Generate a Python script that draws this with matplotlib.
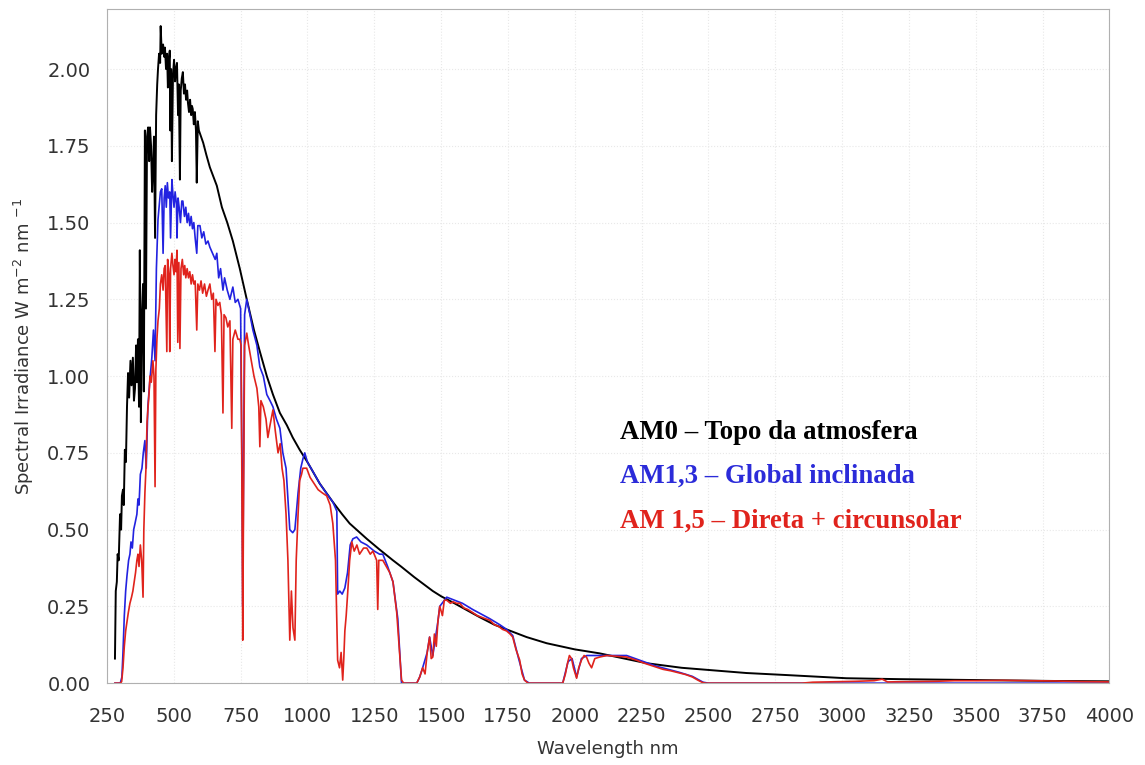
import matplotlib
matplotlib.use("Agg")
import matplotlib.pyplot as plt

# values (wavelength nm, W m-2 nm-1)
am0_wl = [280, 283, 287, 290, 294, 299, 303, 306, 310, 313, 317, 321, 325, 329, 333,
          338, 342, 347, 351, 355, 359, 362, 366, 370, 373, 377, 381, 385, 388, 392,
          396, 400, 404, 408, 411, 415, 419, 422, 426, 430, 434, 438, 441, 445, 449,
          451, 455, 460, 464, 467, 471, 475, 478, 482, 485, 487, 490, 493, 497, 501,
          505, 508, 512, 516, 519, 523, 526, 530, 534, 538, 542, 546, 550, 553, 557,
          561, 565, 568, 571, 575, 579, 583, 586, 590, 594, 598, 610, 622, 635, 648,
          661, 680, 700, 721, 747, 773, 800, 822, 848, 871, 897, 923, 945, 971, 1000,
          1046, 1095, 1130, 1158, 1190, 1222, 1270, 1320, 1350, 1400, 1469, 1500, 1550, 1644, 1700,
          1820, 1895, 2000, 2093, 2268, 2400, 2642, 2800, 3016, 3214, 3400, 3588, 3800, 4000]
am0_val = [0.08, 0.30, 0.33, 0.42, 0.40, 0.55, 0.50, 0.61, 0.63, 0.58, 0.76, 0.72, 0.90, 1.01, 0.93,
           1.05, 0.97, 1.06, 0.92, 0.96, 1.10, 0.98, 1.12, 0.90, 1.41, 0.85, 1.20, 1.30, 0.95, 1.80,
           1.22, 1.78, 1.81, 1.70, 1.81, 1.75, 1.60, 1.67, 1.78, 1.45, 1.85, 1.95, 2.00, 2.05, 2.02,
           2.14, 2.05, 2.08, 2.04, 2.07, 2.00, 2.05, 1.94, 2.03, 2.06, 1.80, 2.00, 1.70, 1.98, 2.03,
           1.96, 2.00, 2.02, 1.85, 1.95, 1.64, 1.93, 1.97, 1.99, 1.92, 1.95, 1.90, 1.93, 1.89, 1.86,
           1.90, 1.85, 1.88, 1.87, 1.82, 1.86, 1.80, 1.63, 1.83, 1.80, 1.79, 1.76, 1.72, 1.68, 1.65,
           1.62, 1.55, 1.50, 1.44, 1.35, 1.25, 1.15, 1.08, 1.00, 0.94, 0.88, 0.84, 0.80, 0.76, 0.72,
           0.65, 0.59, 0.55, 0.52, 0.495, 0.47, 0.435, 0.40, 0.38, 0.345, 0.30, 0.283, 0.26, 0.215, 0.19,
           0.15, 0.13, 0.11, 0.097, 0.065, 0.05, 0.033, 0.026, 0.016, 0.013, 0.011, 0.009, 0.007, 0.006]

am13_wl = [280, 300, 306, 310, 315, 320, 325, 331, 336, 340, 345, 350, 355, 362, 366,
           370, 375, 381, 386, 392, 397, 403, 410, 418, 424, 430, 435, 441, 445, 450,
           455, 460, 464, 468, 472, 476, 480, 485, 488, 493, 497, 501, 505, 510, 512,
           516, 520, 525, 530, 534, 540, 545, 550, 555, 560, 565, 570, 575, 580, 586,
           590, 598, 605, 612, 620, 628, 635, 645, 655, 661, 668, 675, 684, 690, 700,
           710, 721, 730, 740, 750, 756, 758, 761, 765, 773, 785, 796, 811, 822, 835,
           848, 860, 871, 884, 897, 908, 920, 934, 945, 953, 965, 975, 983, 990, 1000,
           1020, 1046, 1070, 1095, 1110, 1113, 1121, 1130, 1140, 1150, 1160, 1170, 1184, 1200,
           1222, 1250, 1270, 1282, 1300, 1320, 1338, 1352, 1409, 1420, 1431, 1448, 1457, 1469,
           1488, 1495, 1512, 1521, 1550, 1580, 1618, 1650, 1682, 1720, 1745, 1768, 1790, 1812, 1830,
           1955, 1975, 1990, 2007, 2025, 2045, 2093, 2194, 2306, 2392, 2440, 2480, 2500, 4000]
am13_val = [0.0, 0.0, 0.02, 0.10, 0.22, 0.30, 0.35, 0.40, 0.42, 0.46, 0.44, 0.50, 0.52, 0.55, 0.60,
            0.58, 0.68, 0.70, 0.75, 0.79, 0.70, 0.90, 0.98, 1.06, 1.15, 1.05, 1.35, 1.51, 1.55, 1.60,
            1.61, 1.40, 1.58, 1.62, 1.55, 1.63, 1.58, 1.60, 1.45, 1.64, 1.59, 1.55, 1.60, 1.56, 1.45,
            1.58, 1.55, 1.50, 1.57, 1.57, 1.52, 1.55, 1.50, 1.53, 1.49, 1.52, 1.48, 1.50, 1.45, 1.40,
            1.49, 1.49, 1.45, 1.47, 1.43, 1.44, 1.42, 1.40, 1.38, 1.40, 1.32, 1.35, 1.28, 1.32, 1.28,
            1.25, 1.29, 1.24, 1.25, 1.22, 0.60, 0.25, 0.70, 1.20, 1.25, 1.20, 1.15, 1.10, 1.03, 1.00,
            0.94, 0.92, 0.90, 0.86, 0.83, 0.75, 0.70, 0.50, 0.49, 0.50, 0.62, 0.70, 0.73, 0.75, 0.72,
            0.69, 0.65, 0.62, 0.59, 0.56, 0.29, 0.30, 0.29, 0.31, 0.36, 0.45, 0.47, 0.476, 0.46,
            0.45, 0.43, 0.42, 0.42, 0.38, 0.33, 0.21, 0.0, 0.0, 0.02, 0.05, 0.10, 0.15, 0.09,
            0.20, 0.25, 0.27, 0.28, 0.27, 0.26, 0.24, 0.225, 0.21, 0.19, 0.175, 0.155, 0.08, 0.01, 0.0,
            0.0, 0.07, 0.08, 0.02, 0.08, 0.09, 0.09, 0.09, 0.055, 0.035, 0.022, 0.003, 0.0, 0.0]

am15_wl = [280, 300, 305, 310, 315, 320, 325, 330, 336, 342, 347, 352, 357, 362, 366,
           370, 375, 380, 385, 388, 392, 396, 400, 404, 408, 411, 416, 422, 426, 430,
           433, 437, 441, 446, 450, 455, 460, 464, 468, 474, 477, 482, 485, 488, 493,
           497, 501, 505, 508, 512, 515, 519, 523, 527, 532, 537, 541, 545, 550, 555,
           560, 565, 570, 575, 580, 586, 590, 596, 602, 608, 615, 622, 628, 635, 642,
           648, 654, 658, 665, 672, 678, 684, 688, 695, 702, 710, 717, 721, 730, 740,
           747, 752, 756, 758, 761, 765, 773, 780, 790, 800, 811, 818, 822, 826, 835,
           845, 852, 860, 871, 880, 890, 898, 905, 912, 920, 927, 934, 940, 946, 953,
           958, 965, 971, 978, 983, 990, 997, 1010, 1025, 1040, 1055, 1072, 1085, 1095,
           1105, 1110, 1113, 1120, 1126, 1132, 1136, 1140, 1145, 1151, 1158, 1166, 1175, 1185,
           1195, 1210, 1222, 1235, 1245, 1259, 1263, 1267, 1282, 1295, 1308, 1320, 1334, 1343,
           1352, 1360, 1409, 1420, 1431, 1440, 1448, 1457, 1463, 1469, 1475, 1482, 1488, 1495,
           1505, 1512, 1521, 1535, 1545, 1558, 1570, 1585, 1600, 1618, 1635, 1650, 1665, 1682,
           1700, 1715, 1730, 1745, 1758, 1768, 1780, 1794, 1803, 1812, 1825, 1955, 1965, 1973,
           1980, 1988, 1995, 2007, 2015, 2025, 2035, 2044, 2053, 2063, 2075, 2093, 2120, 2150,
           2194, 2230, 2260, 2306, 2330, 2360, 2392, 2415, 2440, 2460, 2478, 2490, 2850, 2890,
           2950, 3050, 3120, 3150, 3170, 3250, 3350, 3420, 3500, 3600, 3700, 3800, 3900, 4000]
am15_val = [0.0, 0.0, 0.005, 0.05, 0.12, 0.17, 0.20, 0.23, 0.26, 0.28, 0.30, 0.33, 0.36, 0.40, 0.42,
            0.38, 0.45, 0.40, 0.28, 0.50, 0.62, 0.70, 0.85, 0.90, 0.95, 1.00, 0.98, 1.05, 1.00, 0.64,
            1.02, 1.12, 1.18, 1.22, 1.30, 1.33, 1.28, 1.35, 1.36, 1.08, 1.38, 1.33, 1.08, 1.35, 1.40,
            1.36, 1.33, 1.38, 1.34, 1.41, 1.11, 1.37, 1.09, 1.35, 1.38, 1.33, 1.36, 1.32, 1.35, 1.32,
            1.34, 1.30, 1.33, 1.30, 1.31, 1.15, 1.30, 1.28, 1.31, 1.27, 1.30, 1.26, 1.28, 1.30, 1.25,
            1.27, 1.08, 1.25, 1.23, 1.24, 1.20, 0.88, 1.20, 1.19, 1.16, 1.18, 0.83, 1.12, 1.15, 1.12,
            1.12, 1.10, 0.50, 0.14, 0.60, 1.10, 1.14, 1.10, 1.05, 1.00, 0.96, 0.90, 0.77, 0.92, 0.90,
            0.86, 0.80, 0.84, 0.89, 0.82, 0.75, 0.78, 0.70, 0.66, 0.55, 0.40, 0.14, 0.30, 0.18, 0.14,
            0.40, 0.55, 0.66, 0.68, 0.70, 0.70, 0.70, 0.67, 0.65, 0.63, 0.62, 0.61, 0.58, 0.52,
            0.40, 0.20, 0.075, 0.05, 0.10, 0.01, 0.08, 0.17, 0.22, 0.30, 0.40, 0.46, 0.43, 0.45,
            0.42, 0.44, 0.44, 0.42, 0.43, 0.40, 0.24, 0.40, 0.40, 0.38, 0.36, 0.33, 0.23, 0.12,
            0.01, 0.0, 0.0, 0.02, 0.05, 0.03, 0.10, 0.15, 0.08, 0.085, 0.16, 0.12, 0.20, 0.25,
            0.22, 0.27, 0.27, 0.26, 0.265, 0.26, 0.26, 0.245, 0.24, 0.23, 0.22, 0.215, 0.21, 0.205,
            0.19, 0.185, 0.175, 0.17, 0.16, 0.15, 0.11, 0.075, 0.03, 0.01, 0.0, 0.0, 0.03, 0.065,
            0.09, 0.08, 0.05, 0.016, 0.05, 0.075, 0.09, 0.085, 0.065, 0.05, 0.08, 0.085, 0.09, 0.088,
            0.085, 0.075, 0.065, 0.052, 0.045, 0.04, 0.033, 0.028, 0.02, 0.01, 0.002, 0.0, 0.0, 0.003,
            0.004, 0.006, 0.008, 0.013, 0.004, 0.005, 0.006, 0.008, 0.008, 0.009, 0.008, 0.007, 0.005, 0.004]

x_ticks = [250, 500, 750, 1000, 1250, 1500, 1750, 2000, 2250, 2500, 2750, 3000, 3250, 3500, 3750, 4000]
y_ticks = [0.0, 0.25, 0.5, 0.75, 1.0, 1.25, 1.5, 1.75, 2.0]

labels = ["AM0 \u2013 Topo da atmosfera", "AM1,3 \u2013 Global inclinada", "AM 1,5 \u2013 Direta + circunsolar"]
label_colors = ["#000000", "#2b2bd9", "#e0231c"]
label_y = [0.817, 0.674, 0.528]

fig = plt.figure(figsize=(11.45, 7.65), dpi=100)
ax = fig.add_axes([0.0934, 0.107, 0.8755, 0.881])

ax.plot(am0_wl, am0_val, color="black", lw=1.4)
ax.plot(am13_wl, am13_val, color="#2222e0", lw=1.2)
ax.plot(am15_wl, am15_val, color="#e0231c", lw=1.2)

ax.set_xlim(250, 4000)
ax.set_ylim(0, 2.195)
ax.set_xticks(x_ticks)
ax.set_yticks(y_ticks)
ax.set_yticklabels([f"{v:.2f}" for v in y_ticks])
ax.tick_params(length=0, labelsize=14, labelcolor="#333333")
ax.tick_params(axis="x", pad=17)
ax.tick_params(axis="y", pad=12)
ax.grid(True, color="#e8e8e8", lw=0.8, ls=":")
for s in ax.spines.values():
    s.set_color("#b0b0b0")

ax.set_xlabel("Wavelength nm", fontsize=13, color="#333333", labelpad=10)
ax.set_ylabel(r"Spectral Irradiance W m$^{\mathregular{-2}}$ nm $^{\mathregular{-1}}$",
              fontsize=13, color="#333333", labelpad=8)

for txt, c, yy in zip(labels, label_colors, label_y):
    ax.text(2168, yy, txt, color=c, fontsize=19.3, fontweight="bold",
            family="Liberation Serif", va="center", ha="left")

fig.savefig("out.png", dpi=100)
